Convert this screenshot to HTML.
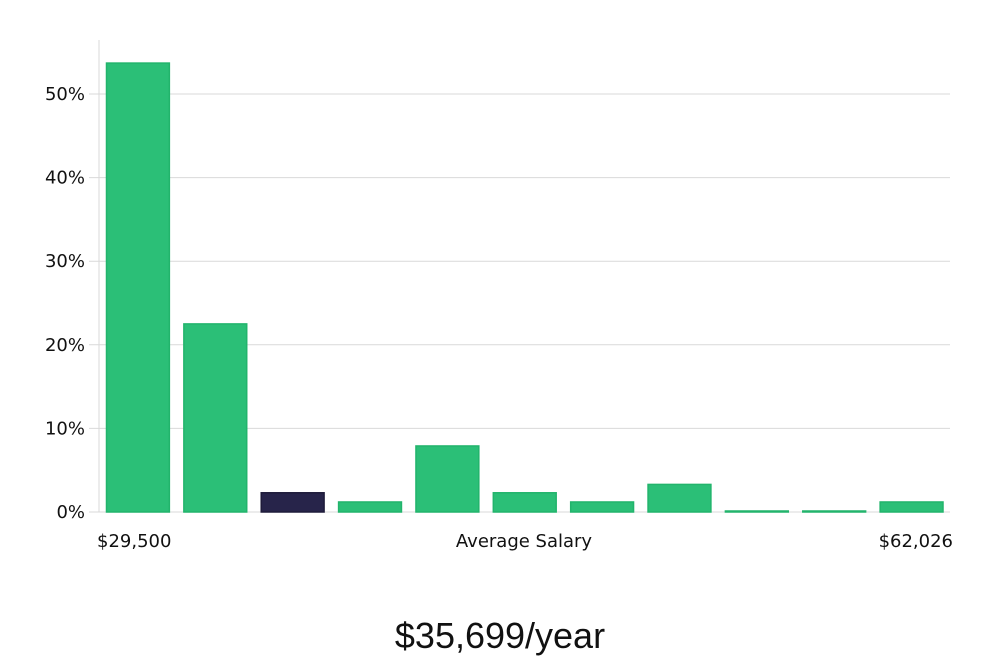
<!DOCTYPE html>
<html><head><meta charset="utf-8"><style>
body{margin:0;background:#fff;width:1000px;height:660px;overflow:hidden;font-family:"DejaVu Sans","Liberation Sans",sans-serif;}
</style></head><body>
<svg width="1000" height="660" id="chart" xmlns="http://www.w3.org/2000/svg"></svg>
<script>
const categories=["b1","b2","b3","b4","b5","b6","b7","b8","b9","b10","b11"];
const values=[53.7,22.5,2.3,1.2,7.9,2.3,1.2,3.3,0.1,0.1,1.2];
const highlightIndex=2;
const yTicks=[0,10,20,30,40,50];
const tickLabels=["0%","10%","20%","30%","40%","50%"];
const svg=document.getElementById('chart');
const NS="http://www.w3.org/2000/svg";
const x0=99,x1=950,y0=512,pxPer=8.36;
const y=v=>y0-v*pxPer;
const step=(x1-x0)/categories.length;
function mk(t,a,txt){const e=document.createElementNS(NS,t);for(const k in a)e.setAttribute(k,a[k]);if(txt!==undefined)e.textContent=txt;svg.appendChild(e);return e;}
yTicks.forEach((t,i)=>{
 const g=mk('line',{x1:89,x2:x1,y1:y(t),y2:y(t),stroke:'#d9d9d9','stroke-width':1});
 
 
 const l=mk('text',{x:85,y:y(t)+6,'text-anchor':'end','font-size':18,fill:'#111'},tickLabels[i]);
 
 
});
const ax=mk('line',{x1:x0,x2:x0,y1:40,y2:y0,stroke:'#d9d9d9','stroke-width':1});


categories.forEach((c,i)=>{
 const bx=x0+i*step+7.5,bw=step-14.5;
 const h=Math.max(values[i]*pxPer,1);
 const hi=i===highlightIndex;
 const r=mk('rect',{x:bx,y:y0-h,width:bw,height:h,fill:hi?'#27244a':'#2bbf77',stroke:hi?'#1e1b3a':'#22b46c','stroke-width':1.5});
 
 
});
const a=mk('text',{x:97,y:547,'font-size':18,fill:'#111'},'$29,500');

const b=mk('text',{x:524,y:547,'font-size':18,fill:'#111','text-anchor':'middle'},'Average Salary');

const c=mk('text',{x:953,y:547,'font-size':18,fill:'#111','text-anchor':'end'},'$62,026');

const d=mk('text',{x:500,y:648,'font-size':36,fill:'#111','text-anchor':'middle','font-family':'"Liberation Sans",sans-serif'},'$35,699/year');

</script>
</body></html>
